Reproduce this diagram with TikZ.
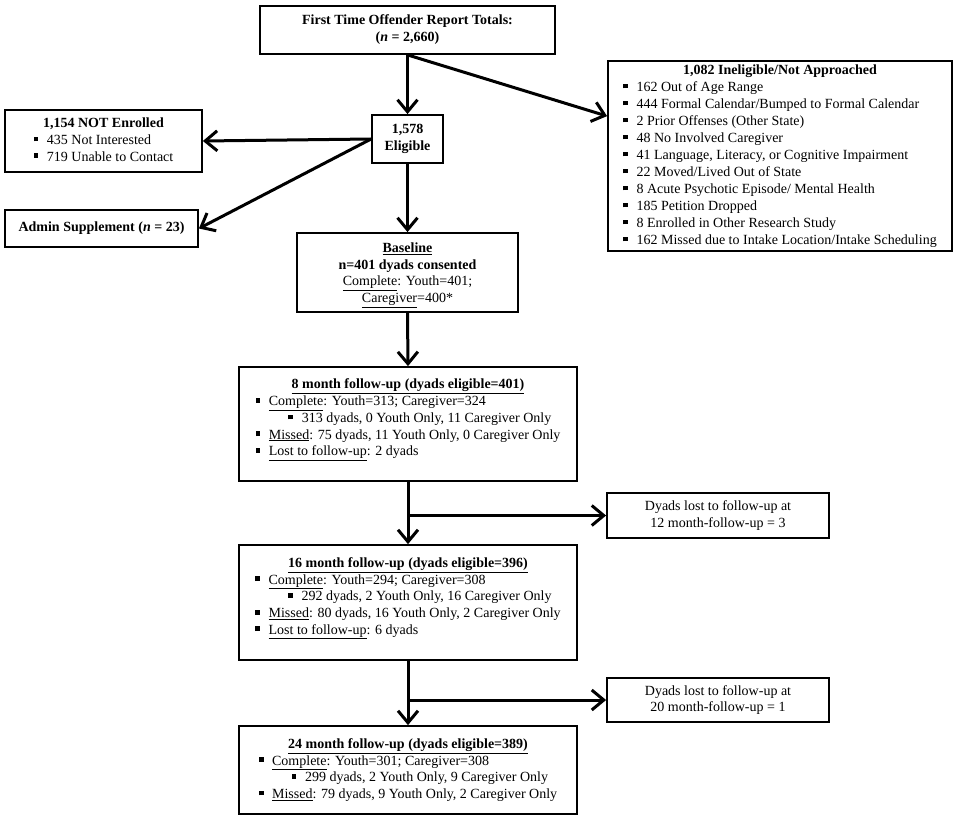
\documentclass[tikz,border=0pt]{standalone}
\usepackage{fontspec}
\setmainfont{Liberation Serif}
\usetikzlibrary{arrows.meta}
\newcommand{\bsq}{\rule[0.22em]{0.34em}{0.34em}}
\newcommand{\itm}{\makebox[0.95em][l]{\bsq}}
\newcommand{\subitm}{\hspace*{2.35em}\itm}
\begin{document}
\begin{tikzpicture}[x=1pt,y=-1pt,
    box/.style={draw,line width=1.8pt,inner sep=0pt,align=center,
        font=\fontsize{14}{16.7}\selectfont},
    flow/.style={line width=3pt,-{Straight Barb[length=12pt,width=20pt]}}]
    \useasboundingbox (0,0) rectangle (956,819);
    \node[box,minimum width=295pt,minimum height=48pt,font=\fontsize{14}{17}\selectfont] (total) at (407.5,30)
        {\textbf{First Time Offender Report Totals:}\\\textbf{(\textit{n} = 2,660)}};
    \node[box,minimum width=71pt,minimum height=48pt] (elig) at (407.5,139)
        {\textbf{1,578}\\\textbf{Eligible}};
    \node[box,minimum width=197pt,minimum height=62pt] (notenr) at (103.5,141)
        {\begin{tabular}{@{}l@{}}
        \multicolumn{1}{@{}c@{}}{\textbf{1,154 NOT Enrolled}}\\
        \itm 435 Not Interested\\
        \itm 719 Unable to Contact
        \end{tabular}};
    \node[box,minimum width=193pt,minimum height=37pt] (admin) at (101.5,228.5)
        {\textbf{Admin Supplement (\textit{n} = 23)}};
    \node[box,minimum width=344pt,minimum height=190pt,font=\fontsize{14}{17}\selectfont] (inelig) at (780,156)
        {\begin{tabular}{@{}l@{}}
        \multicolumn{1}{@{}c@{}}{\textbf{1,082 Ineligible/Not Approached}}\\
        \itm 162 Out of Age Range\\
        \itm 444 Formal Calendar/Bumped to Formal Calendar\\
        \itm 2 Prior Offenses (Other State)\\
        \itm 48 No Involved Caregiver\\
        \itm 41 Language, Literacy, or Cognitive Impairment\\
        \itm 22 Moved/Lived Out of State\\
        \itm 8 Acute Psychotic Episode/ Mental Health\\
        \itm 185 Petition Dropped\\
        \itm 8 Enrolled in Other Research Study\\
        \itm 162 Missed due to Intake Location/Intake Scheduling
        \end{tabular}};
    \node[box,minimum width=221pt,minimum height=79pt] (base) at (407.5,272.5)
        {\rule{0pt}{15pt}\textbf{\underline{Baseline}}\\\textbf{n=401 dyads consented}\\
        \underline{Complete}: Youth=401;\\\underline{Caregiver}=400*};
    \node[box,minimum width=338pt,minimum height=114pt] (fu8) at (408,424)
        {\begin{tabular}{@{}l@{}}
        \multicolumn{1}{@{}c@{}}{\textbf{\underline{8 month follow-up (dyads eligible=401)}}}\\
        \itm\underline{Complete}: Youth=313; Caregiver=324\\
        \subitm 313 dyads, 0 Youth Only, 11 Caregiver Only\\
        \itm\underline{Missed}: 75 dyads, 11 Youth Only, 0 Caregiver Only\\
        \itm\underline{Lost to follow-up}: 2 dyads\\[10pt]
        \end{tabular}};
    \node[box,minimum width=338pt,minimum height=115pt] (fu16) at (408,602.5)
        {\begin{tabular}{@{}l@{}}
        \multicolumn{1}{@{}c@{}}{\textbf{\underline{16 month follow-up (dyads eligible=396)}}}\\
        \itm\underline{Complete}: Youth=294; Caregiver=308\\
        \subitm 292 dyads, 2 Youth Only, 16 Caregiver Only\\
        \itm\underline{Missed}: 80 dyads, 16 Youth Only, 2 Caregiver Only\\
        \itm\underline{Lost to follow-up}: 6 dyads\\[10pt]
        \end{tabular}};
    \node[box,minimum width=338pt,minimum height=88pt] (fu24) at (408,770)
        {\begin{tabular}{@{}l@{}}
        \multicolumn{1}{@{}c@{}}{\textbf{\underline{24 month follow-up (dyads eligible=389)}}}\\
        \itm\underline{Complete}: Youth=301; Caregiver=308\\
        \subitm 299 dyads, 2 Youth Only, 9 Caregiver Only\\
        \itm\underline{Missed}: 79 dyads, 9 Youth Only, 2 Caregiver Only
        \end{tabular}};
    \node[box,minimum width=222pt,minimum height=45pt] (lost12) at (718,515.5)
        {Dyads lost to follow-up at\\12 month-follow-up = 3};
    \node[box,minimum width=222pt,minimum height=44pt] (lost20) at (718,700)
        {Dyads lost to follow-up at\\20 month-follow-up = 1};
    \coordinate (split12) at (fu8.south |- lost12.west);
    \coordinate (split20) at (fu16.south |- lost20.west);
    \draw[flow] (total.south) -- (elig.north);
    \draw[flow] (total.south) -- ([yshift=-56pt]inelig.north west);
    \draw[flow] (elig.west) -- (notenr.east);
    \draw[flow] (elig.west) -- (admin.east);
    \draw[flow] (elig.south) -- (base.north);
    \draw[flow] (base.south) -- (fu8.north);
    \draw[flow] (fu8.south) -- (fu16.north);
    \draw[flow] (split12) -- (lost12.west);
    \draw[flow] (fu16.south) -- (fu24.north);
    \draw[flow] (split20) -- (lost20.west);
\end{tikzpicture}
\end{document}
